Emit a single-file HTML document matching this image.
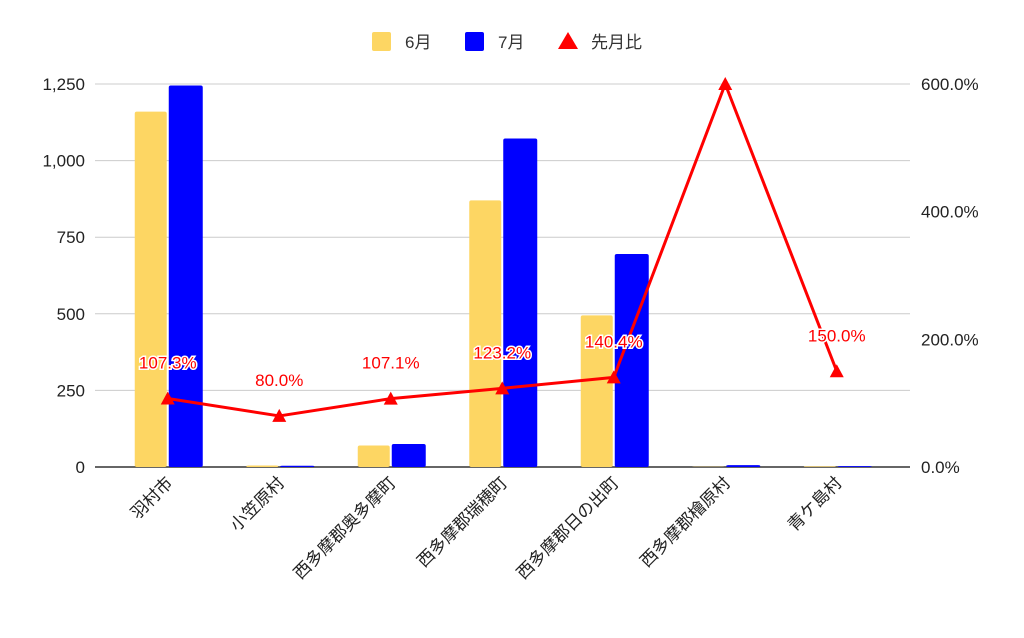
<!DOCTYPE html>
<html><head><meta charset="utf-8"><style>
body{margin:0;background:#fff;}
svg text{font-family:"Liberation Sans","Noto Sans CJK JP",sans-serif;}
</style></head><body>
<svg id="c" width="1024" height="633"></svg>
<script>
const categories=["羽村市","小笠原村","西多摩郡奥多摩町","西多摩郡瑞穂町","西多摩郡日の出町","西多摩郡檜原村","青ケ島村"];
const juneValues=[1160,5,70,870,495,1,2];
const julyValues=[1245,4,75,1072,695,6,3];
const ratioValues=[107.3,80.0,107.1,123.2,140.4,600.0,150.0];
const ratioLabels=["107.3%","80.0%","107.1%","123.2%","140.4%","","150.0%"];
const leftTicks=[0,250,500,750,1000,1250];
const rightTicks=[0,200,400,600];
const NS="http://www.w3.org/2000/svg";
const svg=document.getElementById('c');
const y0=467,yTop=84,plotL=95,plotR=910,catL=112,catW=111.5;
const yL=v=>y0-(v/1250)*(y0-yTop);
const yR=v=>y0-(v/600)*(y0-yTop);
const xC=i=>catL+catW*(i+0.5);
function el(t,a,txt){const e=document.createElementNS(NS,t);for(const k in a)e.setAttribute(k,a[k]);if(txt!==undefined)e.textContent=txt;svg.appendChild(e);return e;}
leftTicks.forEach(v=>{
 const g=el('line',{x1:plotL,x2:plotR,y1:yL(v),y2:yL(v),stroke:v===0?'#333':'#ccc','stroke-width':v===0?1.5:1});
 
 
 const t=el('text',{x:85,y:yL(v)+6,'text-anchor':'end','font-size':17,fill:'#222'},v.toLocaleString('en-US'));
 
 
});
rightTicks.forEach(v=>{
 const t=el('text',{x:921,y:yR(v)+6,'font-size':17,fill:'#222'},v.toFixed(1)+'%');
 
 
});
categories.forEach((c,i)=>{
 const x=xC(i);
 const b1=el('rect',{x:x-33,y:yL(juneValues[i]),width:32,height:y0-yL(juneValues[i]),fill:'#fdd663',rx:2});
 
 
 const b2=el('rect',{x:x+1,y:yL(julyValues[i]),width:34,height:y0-yL(julyValues[i]),fill:'#0000ff',rx:2});
 
 
 const t=el('text',{x:0,y:0,'text-anchor':'end','font-size':17,fill:'#222',transform:`translate(${x+6},${484}) rotate(-45)`},c);
 
 
});
const pts=ratioValues.map((v,i)=>xC(i)+','+yR(v)).join(' ');
const ln=el('polyline',{points:pts,fill:'none',stroke:'#ff0000','stroke-width':3,'stroke-linejoin':'round'});


ratioValues.forEach((v,i)=>{
 const x=xC(i),y=yR(v);
 const m=el('polygon',{points:`${x},${y-7} ${x-7},${y+6} ${x+7},${y+6}`,fill:'#ff0000'});
 
 
 if(ratioLabels[i]){
  const t=el('text',{x:x,y:y-30,'text-anchor':'middle','font-size':17,fill:'#ff0000',stroke:'#fff','stroke-width':3,'paint-order':'stroke'},ratioLabels[i]);
  
  
 }
});
// legend
const lg=[['#fdd663','6月',372],['#0000ff','7月',465],['#ff0000','先月比',558]];
lg.forEach(([c,l,x],i)=>{
 let m;
 if(i<2)m=el('rect',{x:x,y:32,width:19,height:19,rx:2,fill:c});
 else m=el('polygon',{points:`${x+10},${32} ${x},${49} ${x+20},${49}`,fill:c});
 
 
 const t=el('text',{x:x+33,y:48,'font-size':17,fill:'#333'},l);
 
 
});
</script>
</body></html>
